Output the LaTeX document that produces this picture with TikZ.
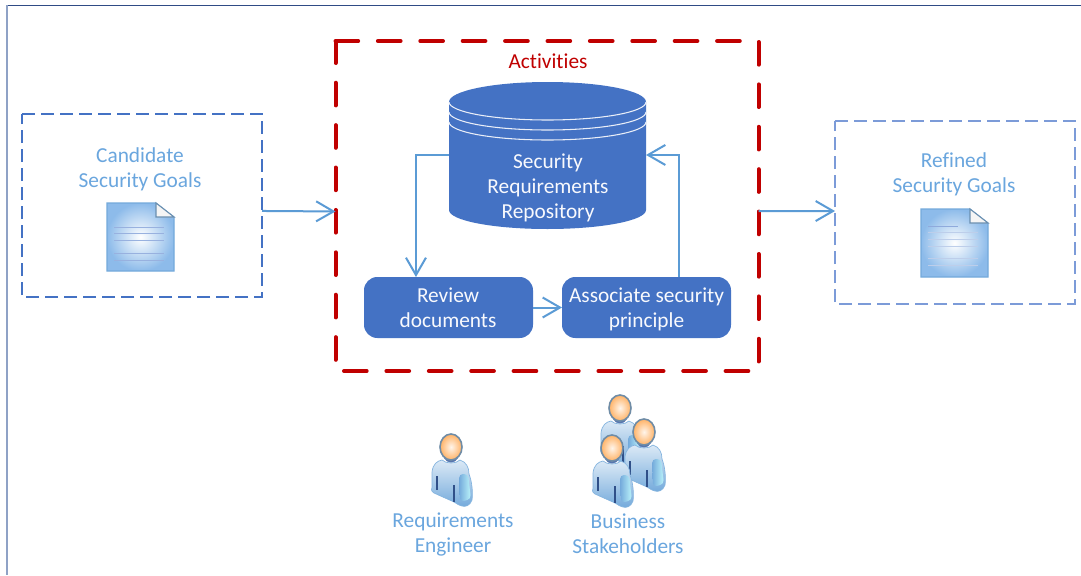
\documentclass[tikz,border=0pt]{standalone}
\usepackage{fontspec}
\setmainfont{Carlito}[Ligatures=NoCommon]
\usetikzlibrary{arrows.meta}
\definecolor{navy}{HTML}{2F4B85}
\definecolor{frameblue}{HTML}{8FA2C6}
\definecolor{boxblue}{HTML}{4472C4}
\definecolor{lightbox}{HTML}{7C9BD8}
\definecolor{linkblue}{HTML}{5B9BD5}
\definecolor{labelblue}{HTML}{6AA6DE}
\definecolor{redline}{HTML}{C00000}
\definecolor{docedge}{HTML}{8DBBEA}
\tikzset{
  x=0.75pt,y=-0.75pt,
  txt/.style={font=\fontsize{16}{18.75}\selectfont,align=center,inner sep=0pt},
  lbl/.style={txt,text=labelblue},
  shell/.style={outer sep=0pt,inner sep=0pt},
  goalbox/.style={shell,minimum width=180pt,minimum height=137.25pt},
  goaldash/.style={line width=1.5pt,dash pattern=on 9.75pt off 4.5pt},
  reddash/.style={draw=redline,line width=3pt,line cap=round,dash pattern=on 17pt off 14.8pt},
  activity/.style={draw=none,fill=boxblue,rounded corners=10pt,outer sep=0pt,minimum width=126.75pt,minimum height=45.75pt},
  lighttxt/.style={txt,text=white!96!boxblue},
  link/.style={draw=linkblue,line width=1.5pt,-{Straight Barb[length=13pt,width=15pt,line width=1.5pt]}},
  pics/docicon/.style={code={
    \shade[inner color=white,outer color=docedge,draw=linkblue!85!white,line width=0.8pt]
      (0,0) -- (49,0) -- (67,14) -- (67,68) -- (0,68) -- cycle;
    \fill[white!92!gray,draw=linkblue!55!gray,line width=0.8pt] (49,0) -- (49,14) -- (67,14) -- cycle;
  }},
  pics/person/.style={code={
    \shade[top color=linkblue!22!white,bottom color=linkblue!85!white,draw=linkblue!75!white,line width=0.5pt]
      (-19,25) .. controls (-18,17) and (-14,14) .. (-9,13)
      .. controls (-5,17) and (5,17) .. (9,13)
      .. controls (15,15) and (18,20) .. (18,27)
      .. controls (21,35) and (22,45) .. (21,53)
      .. controls (19,59) and (14,60) .. (11,59)
      .. controls (7,58) and (5,56) .. (3,55)
      -- (-17,46) .. controls (-19,45) and (-20,44) .. (-19,40) -- cycle;
    \shade[left color=linkblue!85!white,right color=linkblue!35!cyan!30!white,rounded corners=3pt] (8,27) -- (17,27) -- (20,52) -- (9,55) -- cycle;
    \draw[boxblue!70!black,line width=0.8pt] (-14,29) -- (-14,43);
    \draw[boxblue!70!black,line width=0.8pt] (3,38) -- (3,55);
    \fill[boxblue!70!gray] (-7,11) .. controls (-4,17) and (4,17) .. (7,11) -- cycle;
    \shade[inner color=white!92!orange,outer color=orange!60!white,draw=gray!55!linkblue,line width=1.2pt]
      (0,0) ellipse [x radius=11,y radius=13];
  }}
}
\begin{document}
\begin{tikzpicture}
\useasboundingbox (0,0) rectangle (1081,575);
\fill[white] (0,0) rectangle (1081,575);
% page frame
\draw[navy,line width=1.1pt] (7,5.5) -- (1081,5.5);
\draw[frameblue,line width=1.5pt] (7,5) -- (7,575);

% main boxes
\node[goalbox] (cand) at (142,205.5) {};
\node[goalbox] (refined) at (955,212.5) {};
\node[shell,minimum width=317.25pt,minimum height=247.5pt] (act) at (547,206) {};
\draw[goaldash,draw=boxblue] (cand.north west) -- (cand.north east) -- (cand.south east) -- (cand.south west) -- cycle;
\draw[goaldash,draw=lightbox] (refined.north west) -- (refined.north east) -- (refined.south east) -- (refined.south west) -- cycle;
\draw[reddash] (act.north west) -- (act.north east) -- (act.south east) -- (act.south west) -- cycle;

% repository
\path[fill=boxblue] (449,102) -- (449,210) arc[start angle=180,end angle=360,x radius=98.5,y radius=-19]
  -- (646,102) arc[start angle=0,end angle=180,x radius=98.5,y radius=-20] -- cycle;
\foreach \yy in {102,112,122}
  \draw[white!88!boxblue,line width=0.8pt] (449,\yy) arc[start angle=180,end angle=360,x radius=98.5,y radius=-18];
\node[shell,minimum width=147.75pt,minimum height=110.25pt] (repo) at (547.5,155.5) {};
\node[lighttxt] (repotext) at (548,187.5) {Security\\Requirements\\Repository};

% activities
\node[activity] (review) at (448.5,307.5) {};
\node[activity] (assoc) at (646.5,307.5) {};
\node[lighttxt] (reviewtext) at (448,307.5) {Review\\documents};
\node[lighttxt] (assoctext) at (646.5,309) {Associate security\\principle};
\node[txt,text=redline] (acttitle) at (548,61) {Activities};

% connectors
\draw[link] ([yshift=-4.1pt]cand.east) -- ([yshift=-4.1pt]act.west);
\draw[link] ([yshift=-3.75pt]act.east) -- ([yshift=1.1pt]refined.west);
\draw[link] ([yshift=0.4pt]repo.west) -| ([xshift=-24.4pt]review.north);
\draw[link] ([xshift=24.4pt]assoc.north) |- ([yshift=0.4pt]repo.east);
\draw[link] (review.east) -- (assoc.west);

% goal labels and documents
\node[lbl] (candtext) at (140,169) {Candidate\\Security Goals};
\node[lbl] (reftext) at (954,174) {Refined\\Security Goals};
\pic at (107,203) {docicon};
\pic at (921,209) {docicon};
\foreach \yy in {24,30,37,50,57}
  \draw[boxblue!55!white,line width=0.6pt] (114,203+\yy) -- (164,203+\yy);
\foreach \yy in {23,30,37,49,56}
  \draw[boxblue!35!white,line width=0.6pt] (928,209+\yy) -- (978,209+\yy);
\draw[boxblue!60!white,line width=0.6pt] (928,226) -- (958,226);

% people
\pic at (451,447) {person};
\pic at (620,408) {person};
\pic at (644,432) {person};
\pic at (612,448) {person};
\node[lbl] (engineer) at (453,534) {Requirements\\Engineer};
\node[lbl] (stake) at (628,533.5) {Business\\Stakeholders};
\end{tikzpicture}
\end{document}
